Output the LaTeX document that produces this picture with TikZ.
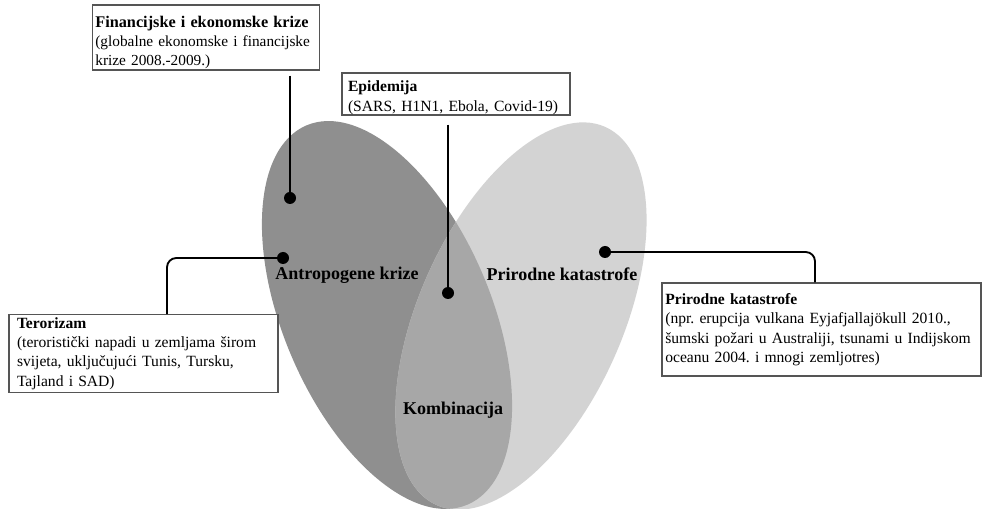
\documentclass[tikz,border=0pt]{standalone}
\usepackage{fontspec}
\setmainfont{Liberation Serif}
\definecolor{ellDark}{HTML}{8F8F8F}
\definecolor{ellMid}{HTML}{A7A7A7}
\definecolor{ellLight}{HTML}{D3D3D3}
\definecolor{boxLine}{HTML}{555555}
\tikzset{
  leftE/.style={shift={(387,315)},rotate=23},
  rightE/.style={shift={(521,316)},rotate=-24},
  infobox/.style={draw=boxLine, line width=0.8pt, fill=white, align=left, inner ysep=2pt,
    font=\fontsize{11.7}{14.6}\selectfont},
  ellabel/.style={font=\fontsize{13.5}{16}\selectfont\bfseries, inner sep=1pt},
  conn/.style={line width=1.4pt, black},
  dotmark/.style={circle, fill=black, inner sep=0pt, minimum size=9pt}
}
\begin{document}
\frenchspacing
\hyphenpenalty=10000
\begin{tikzpicture}[x=0.75pt,y=-0.75pt]
\useasboundingbox (0,0) rectangle (982,509);
% ellipses
\fill[leftE, ellDark] (0,0) ellipse [x radius=104, y radius=206];
\fill[rightE, ellLight] (0,0) ellipse [x radius=102, y radius=207];
\begin{scope}
  \clip[leftE] (0,0) ellipse [x radius=104, y radius=206];
  \fill[rightE, ellMid] (0,0) ellipse [x radius=102, y radius=207];
\end{scope}
% labels
\node[ellabel] (anthro) at (347,275) {Antropogene krize};
\node[ellabel] (natural) at (562,274) {Prirodne katastrofe};
\node[ellabel] (combo) at (453,410) {Kombinacija};
% boxes
\node[infobox, font=\fontsize{11.5}{14.2}\selectfont, inner ysep=0pt, text height=16pt,
  inner xsep=2pt, text width=166pt, minimum height=48.75pt] (fin) at (206,37.5)
  {\mbox{\fontsize{12.2}{14.2}\selectfont\bfseries Financijske i ekonomske krize}\\(globalne ekonomske i financijske\\krize 2008.-2009.)};
\node[infobox, inner xsep=4.5pt, inner ysep=0pt, text height=14pt, text width=162pt, minimum height=31.5pt] (epi) at (456,94)
  {\textbf{Epidemija}\\(SARS, H1N1, Ebola, Covid-19)};
\node[infobox, inner xsep=6pt, text width=189.75pt, minimum height=57.75pt] (ter) at (143.5,353.5)
  {\textbf{Terorizam}\\(teroristički napadi u zemljama širom\\svijeta, uključujući Tunis, Tursku,\\Tajland i SAD)};
\node[infobox, inner xsep=2.5pt, text width=234.25pt, minimum height=69.75pt] (pri) at (821.5,329.5)
  {\textbf{Prirodne katastrofe}\\(npr. erupcija vulkana Eyjafjallajökull 2010.,\\šumski požari u Australiji, tsunami u Indijskom\\oceanu 2004. i mnogi zemljotres)};
% dots
\node[dotmark] (d1) at (290,198) {};
\node[dotmark] (d2) at (448,293) {};
\node[dotmark] (d3) at (283,258) {};
\node[dotmark] (d4) at (605,252) {};
% connectors
\draw[conn] (d1 |- fin.south) ++(0,5) -- (d1.center);
\draw[conn] (d2 |- epi.south) ++(0,9) -- (d2.center);
\draw[conn, rounded corners=7pt] (d3.center) -| (ter.north -| 167,0);
\draw[conn, rounded corners=7pt] (d4.center) -| (pri.north -| 815,0);
\end{tikzpicture}
\end{document}
